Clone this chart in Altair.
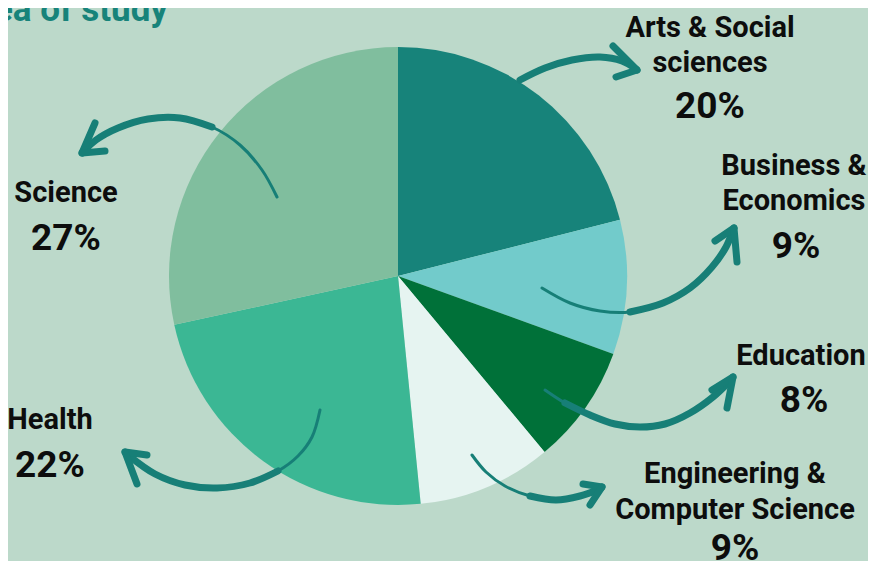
import altair as alt
import pandas as pd

# ---- data ----
categories = ["Arts & Social sciences", "Business & Economics", "Education",
              "Engineering & Computer Science", "Health", "Science"]
shares = [20, 9, 8, 9, 22, 27]
slice_colors = ["#17837a", "#72cbcb", "#007139", "#e6f4f1", "#3bb794", "#80be9e"]

# label text lines (category name lines) and percentages
name_lines = ["Arts & Social", "sciences", "Business &", "Economics", "Education",
              "Engineering &", "Computer Science", "Health", "Science"]
name_x = [710, 710, 794, 794, 801, 735, 735, 50, 66]
name_y = [37, 72, 175, 210, 365, 483, 519, 429, 202]
pct_text = ["20%", "9%", "8%", "9%", "22%", "27%"]
pct_x = [710, 796, 804, 735, 50, 66]
pct_y = [118, 258, 412, 560, 477, 250]

# arrow paths (annotation curves) in picture coordinates
arrow_paths = {
    "arts": [(520, 80), (545, 68), (572, 60), (600, 57), (622, 61), (636, 69)],
    "science": [(277, 197), (262, 170), (240, 145), (212, 127), (180, 118),
                (148, 119), (118, 128), (96, 140), (84, 151)],
    "business": [(542, 288), (570, 303), (600, 311), (630, 312), (663, 303),
                 (690, 288), (712, 267), (726, 247), (733, 230)],
    "education": [(545, 390), (565, 403), (590, 415), (615, 424), (640, 427),
                  (665, 424), (690, 413), (713, 397), (731, 380)],
    "engineering": [(472, 455), (486, 472), (505, 486), (530, 496), (556, 500),
                    (580, 496), (600, 489)],
    "health": [(320, 410), (312, 437), (298, 456), (278, 471), (250, 483),
               (217, 488), (185, 485), (155, 474), (128, 455)],
}
# index from which the stroke becomes thick
arrow_thick_from = {"arts": 0, "science": 3, "business": 3, "education": 1,
                    "engineering": 3, "health": 3}
# arrow heads: tip, barb1, barb2
arrow_heads = {
    "arts": [(637, 70), (613, 46), (616, 77)],
    "science": [(82, 153), (95, 123), (105, 151)],
    "business": [(734, 228), (715, 241), (737, 262)],
    "education": [(733, 377), (712, 390), (727, 408)],
    "engineering": [(602, 487), (583, 484), (590, 505)],
    "health": [(125, 452), (147, 455), (137, 484)],
}

ARROW = "#177f77"
BG = "#bcd9ca"
FONT = "Roboto"

W, H = 860, 553
xs = alt.Scale(domain=[8, 8 + W], nice=False, zero=False)
ys = alt.Scale(domain=[8, 8 + H], nice=False, zero=False, reverse=True)

pie_df = pd.DataFrame({"cat": categories, "share": shares, "idx": list(range(len(categories)))})
pie = alt.Chart(pie_df).mark_arc(outerRadius=229).encode(
    theta=alt.Theta("share:Q", stack=True),
    order=alt.Order("idx:Q"),
    color=alt.Color("cat:N", scale=alt.Scale(domain=categories, range=slice_colors), legend=None),
    x=alt.value(398 - 8),
    y=alt.value(276 - 8),
)

rows_thin, rows_thick = [], []
for k, pts in arrow_paths.items():
    for i, (px, py) in enumerate(pts):
        rows_thin.append({"a": k, "i": i, "x": px, "y": py})
        if i >= arrow_thick_from[k]:
            rows_thick.append({"a": k, "i": i, "x": px, "y": py})
thin_df = pd.DataFrame(rows_thin)
thick_df = pd.DataFrame(rows_thick)

line_thin = alt.Chart(thin_df).mark_line(
    color=ARROW, strokeWidth=3, interpolate="catmull-rom", strokeCap="round"
).encode(
    x=alt.X("x:Q", scale=xs, axis=None),
    y=alt.Y("y:Q", scale=ys, axis=None),
    detail="a:N", order="i:Q",
)
line_thick = alt.Chart(thick_df).mark_line(
    color=ARROW, strokeWidth=7, interpolate="catmull-rom", strokeCap="round"
).encode(
    x=alt.X("x:Q", scale=xs, axis=None),
    y=alt.Y("y:Q", scale=ys, axis=None),
    detail="a:N", order="i:Q",
)

head_rows = []
for k, (tip, b1, b2) in arrow_heads.items():
    for b in (b1, b2):
        head_rows.append({"a": k, "x": tip[0], "y": tip[1], "x2": b[0], "y2": b[1]})
heads = alt.Chart(pd.DataFrame(head_rows)).mark_rule(
    color=ARROW, strokeWidth=7, strokeCap="round"
).encode(
    x=alt.X("x:Q", scale=xs, axis=None), y=alt.Y("y:Q", scale=ys, axis=None),
    x2="x2:Q", y2="y2:Q",
)

names = alt.Chart(pd.DataFrame({"t": name_lines, "x": name_x, "y": name_y})).mark_text(
    font=FONT, fontWeight="bold", fontSize=29, color="#0d0d0d", align="center", baseline="alphabetic"
).encode(
    x=alt.X("x:Q", scale=xs, axis=None), y=alt.Y("y:Q", scale=ys, axis=None), text="t:N"
)
pcts = alt.Chart(pd.DataFrame({"t": pct_text, "x": pct_x, "y": pct_y})).mark_text(
    font=FONT, fontWeight="bold", fontSize=37, color="#0d0d0d", align="center", baseline="alphabetic"
).encode(
    x=alt.X("x:Q", scale=xs, axis=None), y=alt.Y("y:Q", scale=ys, axis=None), text="t:N"
)
title = alt.Chart(pd.DataFrame({"t": ["Area of study"], "x": [168], "y": [21]})).mark_text(
    font=FONT, fontWeight="bold", fontSize=35, color="#17837a", align="right", baseline="alphabetic"
).encode(
    x=alt.X("x:Q", scale=xs, axis=None), y=alt.Y("y:Q", scale=ys, axis=None), text="t:N"
)

chart = alt.layer(pie, line_thin, line_thick, heads, names, pcts, title).properties(
    width=W, height=H, padding=0, autosize=alt.AutoSizeParams(type="none"),
    background=BG,
).configure_view(stroke=None)

chart.save("out.html", embed_options={"renderer": "svg", "actions": False})
